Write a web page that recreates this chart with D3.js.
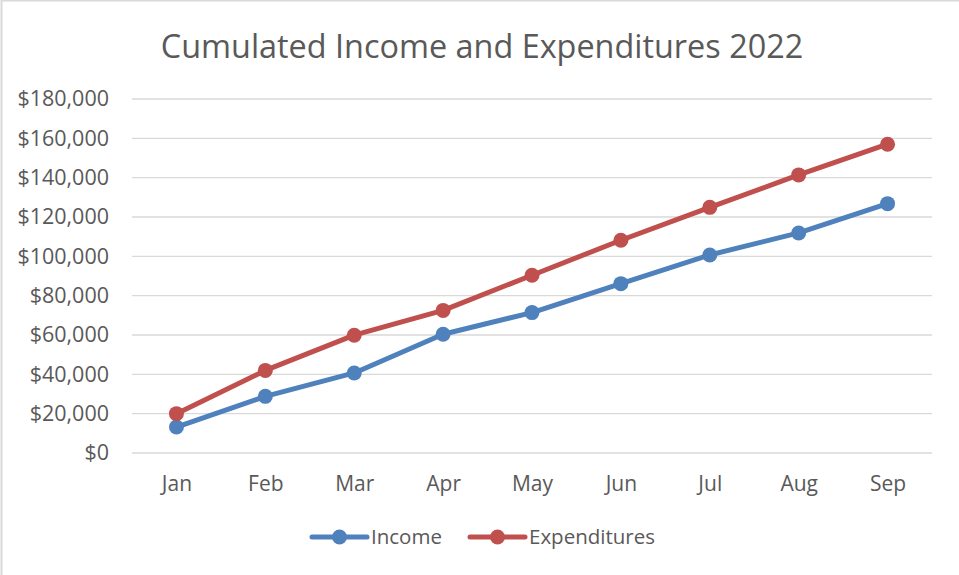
<!DOCTYPE html>
<html>
<head>
<meta charset="utf-8">
<script src="https://cdn.jsdelivr.net/npm/d3@7"></script>
<style>
  body { margin: 0; background: #fff; }
  text { font-family: "Open Sans", sans-serif; fill: #595959; }
</style>
</head>
<body>
<script>
// data
var months = ['Jan', 'Feb', 'Mar', 'Apr', 'May', 'Jun', 'Jul', 'Aug', 'Sep'];
var income = [13200, 28800, 40700, 60400, 71400, 86100, 100700, 111900, 126800];
var expenditures = [20000, 42000, 59900, 72500, 90400, 108200, 124900, 141400, 157000];
var yTicks = [0, 20000, 40000, 60000, 80000, 100000, 120000, 140000, 160000, 180000];

var series = [
  { name: 'Income', values: income, color: '#4f81bd' },
  { name: 'Expenditures', values: expenditures, color: '#c0504d' }
];

var W = 959, H = 575;
var margin = {top: 99, right: 27, bottom: 122, left: 132},
    w = W - margin.left - margin.right,
    h = H - margin.top - margin.bottom;

var svg = d3.select('body').append('svg')
    .attr('width', W)
    .attr('height', H);

// chart border (top + left visible)
svg.append('path')
  .attr('d', 'M1.5,' + H + 'V0.5H' + W)
  .attr('fill', 'none')
  .attr('stroke', '#d9d9d9')
  .attr('stroke-width', 2);

svg.append('text')
  .attr('x', 482)
  .attr('y', 58)
  .attr('text-anchor', 'middle')
  .attr('font-size', '32.4px')
  .text('Cumulated Income and Expenditures 2022');

var g = svg.append('g')
    .attr('transform', 'translate(' + margin.left + ',' + margin.top + ')');

var xScale = d3.scalePoint()
    .domain(months)
    .range([0, w])
    .padding(0.5);

var yScale = d3.scaleLinear()
    .domain([0, 180000])
    .range([h, 0]);

var fmt = function (d) { return '$' + d3.format(',')(d); };

// gridlines
g.selectAll('.grid')
  .data(yTicks)
  .enter()
  .append('line')
  .attr('class', 'grid')
  .attr('x1', 0)
  .attr('x2', w)
  .attr('y1', function (d) { return yScale(d); })
  .attr('y2', function (d) { return yScale(d); })
  .attr('stroke', '#d9d9d9')
  .attr('stroke-width', 1.3);

var yAxis = d3.axisLeft(yScale).tickValues(yTicks).tickFormat(fmt).tickSize(0).tickPadding(23);
var yg = g.append('g').call(yAxis);
yg.select('.domain').remove();
yg.selectAll('text').attr('font-size', '21.5px').style('fill', '#595959');

var xAxis = d3.axisBottom(xScale).tickSize(0).tickPadding(23);
var xg = g.append('g').attr('transform', 'translate(0,' + h + ')').call(xAxis);
xg.select('.domain').remove();
xg.selectAll('text').attr('font-size', '21px').style('fill', '#595959');

var line = d3.line()
  .x(function (d, i) { return xScale(months[i]); })
  .y(function (d) { return yScale(d); });

series.forEach(function (s) {
  g.append('path')
    .datum(s.values)
    .attr('d', line)
    .attr('fill', 'none')
    .attr('stroke', s.color)
    .attr('stroke-width', 5)
    .attr('stroke-linejoin', 'round')
    .attr('stroke-linecap', 'round');

  g.selectAll('.dot-' + s.name)
    .data(s.values)
    .enter()
    .append('circle')
    .attr('cx', function (d, i) { return xScale(months[i]); })
    .attr('cy', function (d) { return yScale(d); })
    .attr('r', 7.5)
    .attr('fill', s.color);
});

// legend
var legendX = [312, 470];
var legend = svg.selectAll('.legend')
  .data(series)
  .enter()
  .append('g')
  .attr('class', 'legend')
  .attr('transform', function (d, i) { return 'translate(' + legendX[i] + ',537)'; });

legend.append('line')
  .attr('x1', 0).attr('x2', 55)
  .attr('stroke', function (d) { return d.color; })
  .attr('stroke-width', 5)
  .attr('stroke-linecap', 'round');

legend.append('circle')
  .attr('cx', 27.5)
  .attr('r', 7.5)
  .attr('fill', function (d) { return d.color; });

legend.append('text')
  .attr('x', 59)
  .attr('dy', '0.35em')
  .attr('font-size', '20.5px')
  .text(function (d) { return d.name; });
</script>
</body>
</html>
